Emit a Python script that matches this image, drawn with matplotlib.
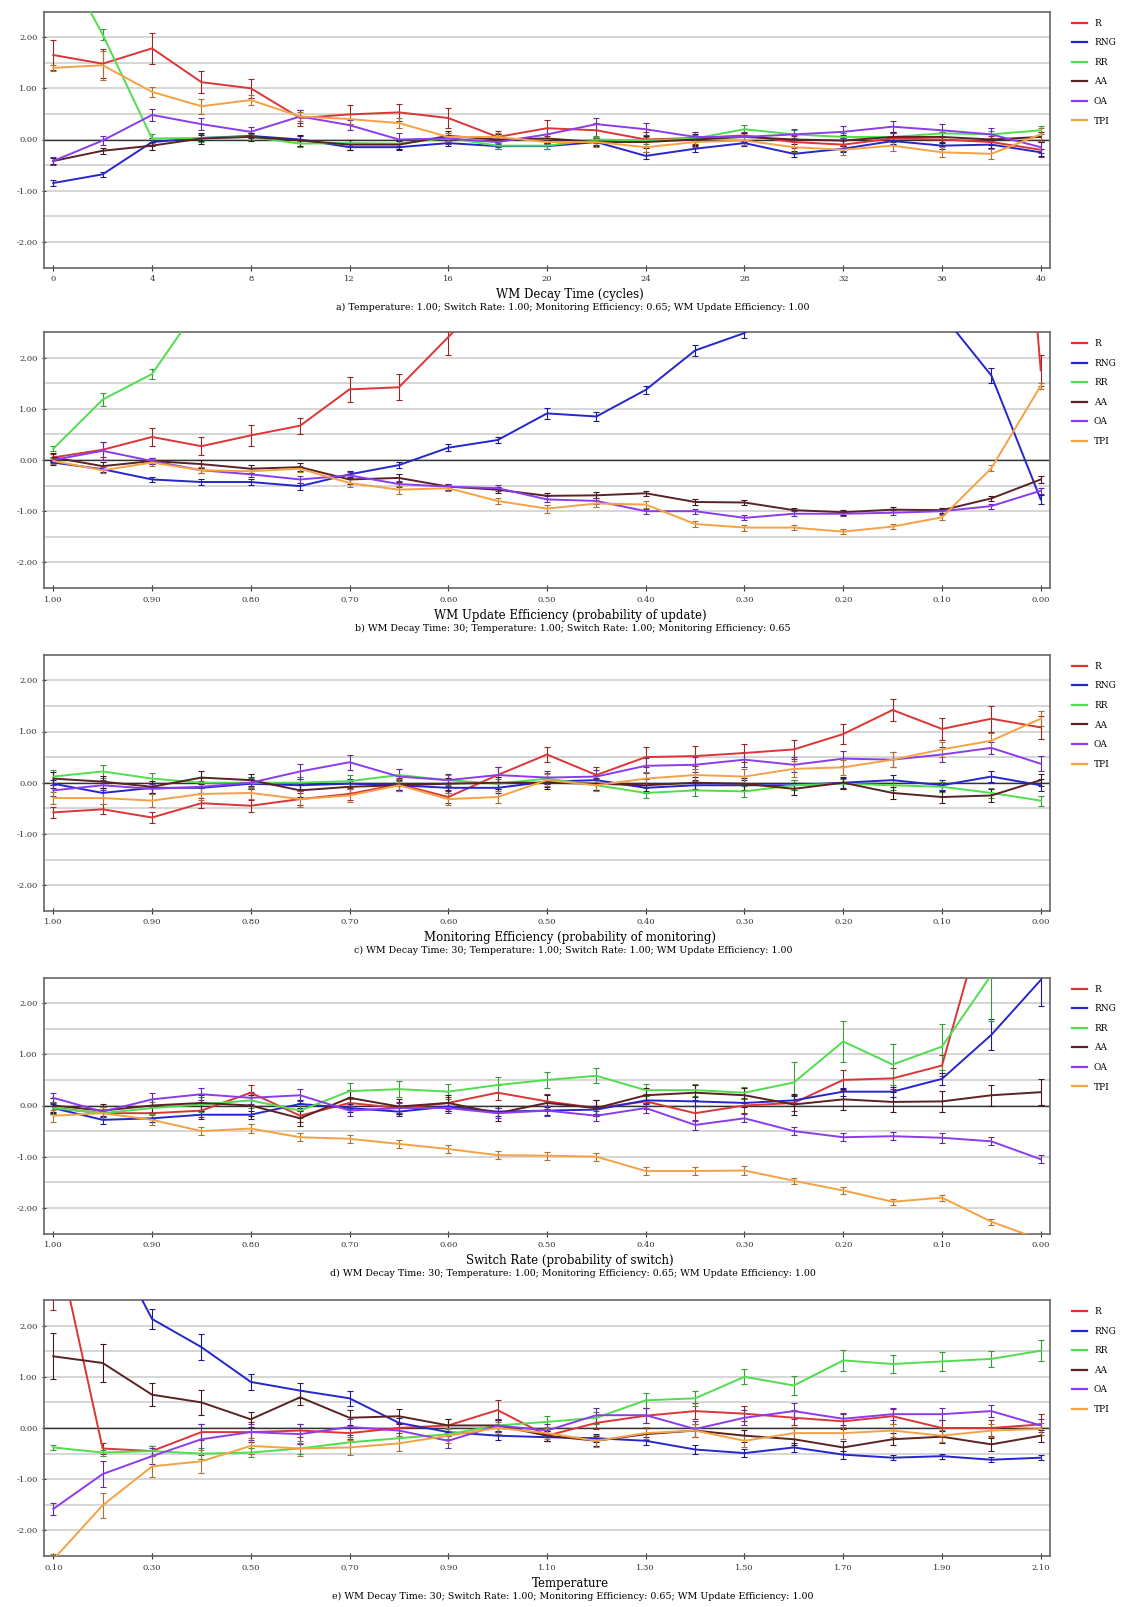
import numpy as np
import matplotlib
matplotlib.use("Agg")
import matplotlib.pyplot as plt
import matplotlib.colors as mcolors
from matplotlib.lines import Line2D
from matplotlib.ticker import MultipleLocator, FormatStrFormatter, FixedLocator

plt.rcParams['font.family'] = ['DejaVu Serif']

names = ['R', 'RNG', 'RR', 'AA', 'OA', 'TPI']
colors = ['#dc3535', '#2626cc', '#4ede4e', '#5a2222', '#8c3cee', '#f5a245']

# a) WM decay time
decay_x = [0, 2, 4, 6, 8, 10, 12, 14, 16, 18, 20, 22, 24, 26, 28, 30, 32, 34, 36, 38, 40]
decay_R = [1.65, 1.48, 1.78, 1.12, 1.0, 0.42, 0.49, 0.53, 0.42, 0.05, 0.22, 0.18, 0.0, 0.03, 0.08, -0.05, -0.1, 0.02, 0.0, -0.05, -0.2]
decay_RNG = [-0.85, -0.68, -0.05, 0.03, 0.07, 0.0, -0.15, -0.15, -0.07, -0.13, -0.13, -0.05, -0.32, -0.18, -0.07, -0.28, -0.18, -0.03, -0.12, -0.1, -0.25]
decay_RR = [3.85, 2.05, 0.02, 0.03, 0.05, -0.08, -0.07, -0.08, 0.03, -0.12, -0.12, 0.0, -0.02, 0.02, 0.2, 0.1, 0.05, 0.05, 0.12, 0.1, 0.18]
decay_AA = [-0.42, -0.22, -0.12, 0.02, 0.05, -0.02, -0.1, -0.1, 0.07, 0.0, 0.02, -0.05, -0.05, 0.0, 0.05, 0.0, -0.02, 0.05, 0.05, 0.0, 0.05]
decay_OA = [-0.42, -0.02, 0.48, 0.3, 0.15, 0.45, 0.28, 0.0, 0.02, -0.05, 0.1, 0.3, 0.2, 0.05, 0.05, 0.1, 0.15, 0.25, 0.18, 0.1, -0.15]
decay_TPI = [1.4, 1.45, 0.93, 0.65, 0.77, 0.45, 0.4, 0.32, 0.05, 0.05, -0.05, -0.05, -0.15, -0.05, -0.02, -0.15, -0.2, -0.12, -0.25, -0.28, 0.1]
decay_R_err = [0.3, 0.28, 0.3, 0.22, 0.18, 0.15, 0.18, 0.16, 0.2, 0.12, 0.16, 0.15, 0.15, 0.12, 0.12, 0.12, 0.13, 0.12, 0.12, 0.12, 0.15]
decay_RNG_err = [0.05, 0.05, 0.08, 0.06, 0.05, 0.06, 0.06, 0.06, 0.05, 0.05, 0.05, 0.06, 0.07, 0.06, 0.05, 0.06, 0.06, 0.06, 0.06, 0.06, 0.07]
decay_RR_err = [0.1, 0.1, 0.08, 0.08, 0.06, 0.06, 0.06, 0.06, 0.06, 0.06, 0.06, 0.06, 0.07, 0.06, 0.08, 0.08, 0.07, 0.07, 0.07, 0.07, 0.08]
decay_AA_err = [0.06, 0.06, 0.08, 0.1, 0.07, 0.1, 0.1, 0.08, 0.1, 0.1, 0.08, 0.08, 0.12, 0.1, 0.08, 0.08, 0.1, 0.1, 0.1, 0.1, 0.1]
decay_OA_err = [0.08, 0.08, 0.12, 0.12, 0.1, 0.12, 0.1, 0.12, 0.1, 0.1, 0.12, 0.12, 0.12, 0.1, 0.1, 0.1, 0.12, 0.12, 0.12, 0.12, 0.12]
decay_TPI_err = [0.06, 0.28, 0.1, 0.15, 0.1, 0.08, 0.1, 0.1, 0.08, 0.08, 0.08, 0.1, 0.1, 0.1, 0.08, 0.1, 0.1, 0.1, 0.1, 0.1, 0.12]

# b) WM update efficiency
update_x = [1.0, 0.95, 0.9, 0.85, 0.8, 0.75, 0.7, 0.65, 0.6, 0.55, 0.5, 0.45, 0.4, 0.35, 0.3, 0.25, 0.2, 0.15, 0.1, 0.05, 0.0]
update_R = [0.05, 0.2, 0.45, 0.27, 0.48, 0.67, 1.38, 1.42, 2.4, 3.4, 4.3, 5.2, 6.0, 6.8, 7.5, 8.2, 9.0, 9.8, 10.6, 13.5, 1.75]
update_RNG = [-0.05, -0.18, -0.38, -0.43, -0.43, -0.51, -0.28, -0.1, 0.24, 0.39, 0.91, 0.85, 1.37, 2.14, 2.48, 3.3, 3.8, 3.5, 2.85, 1.65, -0.77]
update_RR = [0.22, 1.18, 1.68, 3.07, 4.0, 4.8, 5.5, 6.0, 6.5, 7.0, 7.5, 8.0, 8.5, 9.0, 9.5, 10.0, 10.5, 11.0, 11.5, 12.0, 12.5]
update_AA = [0.05, -0.12, -0.02, -0.08, -0.17, -0.14, -0.38, -0.35, -0.52, -0.58, -0.7, -0.69, -0.65, -0.82, -0.83, -0.98, -1.02, -0.97, -0.98, -0.75, -0.38]
update_OA = [0.0, 0.18, -0.02, -0.2, -0.28, -0.38, -0.3, -0.47, -0.52, -0.55, -0.77, -0.8, -1.0, -1.0, -1.13, -1.05, -1.05, -1.03, -1.0, -0.9, -0.6]
update_TPI = [-0.02, -0.2, -0.05, -0.2, -0.22, -0.17, -0.45, -0.58, -0.55, -0.8, -0.95, -0.85, -0.87, -1.25, -1.32, -1.32, -1.4, -1.3, -1.12, -0.16, 1.45]
update_R_err = [0.06, 0.15, 0.18, 0.18, 0.2, 0.16, 0.25, 0.25, 0.35, 0.4, 0.4, 0.4, 0.4, 0.4, 0.4, 0.4, 0.4, 0.4, 0.4, 0.4, 0.3]
update_RNG_err = [0.04, 0.05, 0.05, 0.06, 0.06, 0.07, 0.06, 0.06, 0.07, 0.06, 0.1, 0.08, 0.08, 0.1, 0.1, 0.2, 0.2, 0.2, 0.2, 0.15, 0.08]
update_RR_err = [0.05, 0.12, 0.1, 0.15, 0.2, 0.2, 0.2, 0.2, 0.2, 0.2, 0.2, 0.2, 0.2, 0.2, 0.2, 0.2, 0.2, 0.2, 0.2, 0.2, 0.2]
update_AA_err = [0.08, 0.08, 0.06, 0.08, 0.08, 0.08, 0.08, 0.08, 0.06, 0.06, 0.06, 0.06, 0.05, 0.05, 0.05, 0.05, 0.05, 0.05, 0.05, 0.05, 0.06]
update_OA_err = [0.06, 0.18, 0.06, 0.06, 0.06, 0.06, 0.06, 0.06, 0.06, 0.06, 0.06, 0.06, 0.05, 0.05, 0.05, 0.05, 0.05, 0.05, 0.05, 0.05, 0.06]
update_TPI_err = [0.06, 0.06, 0.06, 0.06, 0.06, 0.06, 0.08, 0.08, 0.06, 0.06, 0.08, 0.06, 0.06, 0.06, 0.06, 0.05, 0.05, 0.05, 0.05, 0.06, 0.06]

# c) monitoring efficiency
monitor_x = update_x
monitor_R = [-0.58, -0.52, -0.68, -0.4, -0.45, -0.32, -0.22, -0.03, -0.28, 0.15, 0.55, 0.15, 0.5, 0.52, 0.58, 0.65, 0.95, 1.42, 1.05, 1.25, 1.08]
monitor_RNG = [-0.02, -0.2, -0.1, -0.1, -0.02, -0.05, -0.02, -0.05, -0.1, -0.1, 0.02, 0.05, -0.1, -0.05, -0.05, -0.05, 0.0, 0.05, -0.05, 0.12, -0.05]
monitor_RR = [0.12, 0.22, 0.08, 0.0, 0.0, 0.0, 0.03, 0.15, 0.05, -0.02, 0.08, -0.05, -0.2, -0.15, -0.17, -0.05, -0.02, -0.05, -0.08, -0.2, -0.35]
monitor_AA = [0.08, 0.02, -0.08, 0.1, 0.05, -0.15, -0.08, -0.05, -0.02, 0.0, 0.0, -0.02, -0.05, 0.0, -0.02, -0.12, 0.0, -0.2, -0.28, -0.25, 0.05]
monitor_OA = [-0.15, -0.05, -0.12, -0.08, 0.0, 0.22, 0.4, 0.12, 0.05, 0.15, 0.1, 0.12, 0.33, 0.35, 0.45, 0.35, 0.47, 0.45, 0.55, 0.68, 0.37]
monitor_TPI = [-0.3, -0.3, -0.35, -0.22, -0.2, -0.32, -0.25, -0.05, -0.32, -0.28, 0.05, -0.05, 0.08, 0.15, 0.12, 0.27, 0.3, 0.45, 0.65, 0.82, 1.25]
monitor_R_err = [0.1, 0.1, 0.1, 0.1, 0.12, 0.12, 0.12, 0.12, 0.12, 0.15, 0.15, 0.15, 0.2, 0.2, 0.18, 0.18, 0.2, 0.22, 0.22, 0.25, 0.22]
monitor_RNG_err = [0.08, 0.1, 0.1, 0.1, 0.1, 0.12, 0.1, 0.1, 0.1, 0.1, 0.1, 0.1, 0.1, 0.1, 0.1, 0.1, 0.1, 0.1, 0.1, 0.1, 0.12]
monitor_RR_err = [0.12, 0.12, 0.1, 0.1, 0.1, 0.12, 0.12, 0.12, 0.1, 0.1, 0.1, 0.1, 0.1, 0.1, 0.1, 0.1, 0.1, 0.1, 0.1, 0.1, 0.1]
monitor_AA_err = [0.12, 0.12, 0.12, 0.12, 0.12, 0.12, 0.12, 0.12, 0.12, 0.12, 0.12, 0.12, 0.12, 0.12, 0.12, 0.12, 0.12, 0.12, 0.12, 0.12, 0.12]
monitor_OA_err = [0.1, 0.1, 0.1, 0.12, 0.12, 0.15, 0.15, 0.15, 0.12, 0.15, 0.12, 0.12, 0.15, 0.15, 0.15, 0.15, 0.15, 0.15, 0.15, 0.12, 0.15]
monitor_TPI_err = [0.12, 0.12, 0.12, 0.12, 0.12, 0.15, 0.12, 0.12, 0.12, 0.12, 0.12, 0.12, 0.12, 0.12, 0.15, 0.15, 0.15, 0.15, 0.15, 0.15, 0.15]

# d) switch rate
switch_x = update_x
switch_R = [-0.05, -0.15, -0.15, -0.1, 0.25, -0.2, 0.05, -0.05, 0.05, 0.25, 0.08, -0.05, 0.08, -0.15, 0.0, 0.05, 0.5, 0.53, 0.78, 4.2, 6.0]
switch_RNG = [-0.05, -0.28, -0.25, -0.18, -0.18, 0.03, -0.05, -0.12, -0.02, -0.12, -0.1, -0.08, 0.1, 0.08, 0.05, 0.1, 0.27, 0.27, 0.52, 1.38, 2.45]
switch_RR = [-0.05, -0.15, -0.05, 0.02, 0.1, -0.1, 0.28, 0.32, 0.27, 0.4, 0.5, 0.58, 0.3, 0.3, 0.25, 0.45, 1.25, 0.8, 1.15, 2.55, 4.0]
switch_AA = [0.0, -0.1, 0.0, 0.05, 0.0, -0.25, 0.15, -0.02, 0.05, -0.15, 0.05, -0.05, 0.2, 0.25, 0.2, 0.02, 0.12, 0.07, 0.08, 0.2, 0.26]
switch_OA = [0.15, -0.12, 0.12, 0.22, 0.15, 0.2, -0.1, -0.05, -0.05, -0.15, -0.1, -0.2, -0.05, -0.38, -0.25, -0.5, -0.62, -0.6, -0.63, -0.7, -1.05]
switch_TPI = [-0.2, -0.15, -0.28, -0.5, -0.45, -0.62, -0.65, -0.75, -0.85, -0.97, -0.98, -1.0, -1.28, -1.28, -1.27, -1.47, -1.66, -1.88, -1.8, -2.27, -2.62]
switch_R_err = [0.12, 0.12, 0.12, 0.12, 0.15, 0.12, 0.12, 0.12, 0.12, 0.15, 0.15, 0.15, 0.15, 0.15, 0.15, 0.15, 0.2, 0.2, 0.2, 0.4, 0.5]
switch_RNG_err = [0.08, 0.08, 0.08, 0.08, 0.08, 0.08, 0.08, 0.08, 0.08, 0.08, 0.08, 0.08, 0.08, 0.08, 0.08, 0.08, 0.08, 0.1, 0.12, 0.3, 0.5]
switch_RR_err = [0.12, 0.12, 0.12, 0.15, 0.15, 0.15, 0.15, 0.15, 0.15, 0.15, 0.15, 0.15, 0.12, 0.12, 0.12, 0.4, 0.4, 0.4, 0.45, 0.9, 0.9]
switch_AA_err = [0.15, 0.12, 0.12, 0.15, 0.2, 0.15, 0.15, 0.15, 0.15, 0.15, 0.15, 0.15, 0.15, 0.15, 0.15, 0.2, 0.2, 0.2, 0.2, 0.2, 0.25]
switch_OA_err = [0.1, 0.1, 0.12, 0.12, 0.12, 0.12, 0.1, 0.1, 0.1, 0.1, 0.1, 0.1, 0.1, 0.1, 0.08, 0.08, 0.08, 0.08, 0.1, 0.08, 0.08]
switch_TPI_err = [0.12, 0.12, 0.1, 0.08, 0.08, 0.08, 0.08, 0.08, 0.08, 0.08, 0.08, 0.08, 0.08, 0.08, 0.08, 0.06, 0.06, 0.06, 0.06, 0.06, 0.06]

# e) temperature
temp_x = [0.1, 0.2, 0.3, 0.4, 0.5, 0.6, 0.7, 0.8, 0.9, 1.0, 1.1, 1.2, 1.3, 1.4, 1.5, 1.6, 1.7, 1.8, 1.9, 2.0, 2.1]
temp_R = [4.0, -0.4, -0.45, -0.08, -0.08, -0.05, -0.1, 0.0, 0.05, 0.35, -0.15, 0.1, 0.24, 0.33, 0.28, 0.2, 0.13, 0.23, 0.0, 0.0, 0.07]
temp_RNG = [5.0, 3.98, 2.13, 1.58, 0.9, 0.73, 0.58, 0.1, -0.08, -0.15, -0.18, -0.2, -0.25, -0.42, -0.49, -0.38, -0.52, -0.58, -0.55, -0.62, -0.58]
temp_RR = [-0.38, -0.48, -0.45, -0.5, -0.48, -0.4, -0.28, -0.2, -0.12, 0.05, 0.12, 0.2, 0.54, 0.58, 1.0, 0.83, 1.32, 1.25, 1.3, 1.35, 1.51]
temp_AA = [1.4, 1.27, 0.65, 0.5, 0.17, 0.6, 0.2, 0.23, 0.05, 0.05, -0.15, -0.25, -0.12, -0.05, -0.15, -0.22, -0.38, -0.22, -0.17, -0.32, -0.15]
temp_OA = [-1.58, -0.9, -0.55, -0.22, -0.08, -0.12, 0.02, -0.05, -0.25, 0.05, -0.05, 0.25, 0.25, -0.02, 0.2, 0.33, 0.18, 0.27, 0.27, 0.33, 0.05]
temp_TPI = [-2.57, -1.51, -0.75, -0.65, -0.35, -0.4, -0.38, -0.3, -0.15, 0.0, -0.1, -0.25, -0.1, -0.05, -0.25, -0.1, -0.1, -0.05, -0.15, -0.05, -0.02]
temp_R_err = [1.7, 0.1, 0.1, 0.15, 0.2, 0.12, 0.12, 0.1, 0.12, 0.2, 0.1, 0.12, 0.15, 0.15, 0.15, 0.15, 0.15, 0.15, 0.15, 0.15, 0.2]
temp_RNG_err = [0.3, 0.3, 0.2, 0.25, 0.15, 0.15, 0.15, 0.1, 0.08, 0.08, 0.08, 0.08, 0.08, 0.08, 0.08, 0.08, 0.08, 0.05, 0.05, 0.05, 0.05]
temp_RR_err = [0.05, 0.06, 0.1, 0.1, 0.08, 0.1, 0.1, 0.1, 0.1, 0.1, 0.12, 0.12, 0.15, 0.15, 0.15, 0.18, 0.2, 0.18, 0.18, 0.15, 0.2]
temp_AA_err = [0.45, 0.38, 0.22, 0.25, 0.15, 0.15, 0.15, 0.15, 0.12, 0.1, 0.1, 0.1, 0.12, 0.12, 0.12, 0.12, 0.12, 0.12, 0.12, 0.12, 0.12]
temp_OA_err = [0.12, 0.25, 0.15, 0.3, 0.15, 0.2, 0.15, 0.15, 0.15, 0.12, 0.12, 0.15, 0.15, 0.15, 0.15, 0.15, 0.12, 0.12, 0.12, 0.12, 0.12]
temp_TPI_err = [0.1, 0.25, 0.2, 0.22, 0.15, 0.15, 0.15, 0.15, 0.15, 0.12, 0.12, 0.12, 0.12, 0.12, 0.12, 0.12, 0.12, 0.12, 0.12, 0.12, 0.12]

panels = [
    (decay_x, [decay_R, decay_RNG, decay_RR, decay_AA, decay_OA, decay_TPI],
     [decay_R_err, decay_RNG_err, decay_RR_err, decay_AA_err, decay_OA_err, decay_TPI_err],
     [0, 4, 8, 12, 16, 20, 24, 28, 32, 36, 40], '%d', False,
     'WM Decay Time (cycles)',
     'a) Temperature: 1.00; Switch Rate: 1.00; Monitoring Efficiency: 0.65; WM Update Efficiency: 1.00'),
    (update_x, [update_R, update_RNG, update_RR, update_AA, update_OA, update_TPI],
     [update_R_err, update_RNG_err, update_RR_err, update_AA_err, update_OA_err, update_TPI_err],
     [1.0, 0.9, 0.8, 0.7, 0.6, 0.5, 0.4, 0.3, 0.2, 0.1, 0.0], '%.2f', True,
     'WM Update Efficiency (probability of update)',
     'b) WM Decay Time: 30; Temperature: 1.00; Switch Rate: 1.00; Monitoring Efficiency: 0.65'),
    (monitor_x, [monitor_R, monitor_RNG, monitor_RR, monitor_AA, monitor_OA, monitor_TPI],
     [monitor_R_err, monitor_RNG_err, monitor_RR_err, monitor_AA_err, monitor_OA_err, monitor_TPI_err],
     [1.0, 0.9, 0.8, 0.7, 0.6, 0.5, 0.4, 0.3, 0.2, 0.1, 0.0], '%.2f', True,
     'Monitoring Efficiency (probability of monitoring)',
     'c) WM Decay Time: 30; Temperature: 1.00; Switch Rate: 1.00; WM Update Efficiency: 1.00'),
    (switch_x, [switch_R, switch_RNG, switch_RR, switch_AA, switch_OA, switch_TPI],
     [switch_R_err, switch_RNG_err, switch_RR_err, switch_AA_err, switch_OA_err, switch_TPI_err],
     [1.0, 0.9, 0.8, 0.7, 0.6, 0.5, 0.4, 0.3, 0.2, 0.1, 0.0], '%.2f', True,
     'Switch Rate (probability of switch)',
     'd) WM Decay Time: 30; Temperature: 1.00; Monitoring Efficiency: 0.65; WM Update Efficiency: 1.00'),
    (temp_x, [temp_R, temp_RNG, temp_RR, temp_AA, temp_OA, temp_TPI],
     [temp_R_err, temp_RNG_err, temp_RR_err, temp_AA_err, temp_OA_err, temp_TPI_err],
     [0.1, 0.3, 0.5, 0.7, 0.9, 1.1, 1.3, 1.5, 1.7, 1.9, 2.1], '%.2f', False,
     'Temperature',
     'e) WM Decay Time: 30; Switch Rate: 1.00; Monitoring Efficiency: 0.65; WM Update Efficiency: 1.00'),
]

W, H = 1126, 1607
fig = plt.figure(figsize=(W / 100, H / 100), dpi=100)

tops = [11.5, 332, 654.7, 977.5, 1300]
ax_h = 256
ax_left, ax_right = 44, 1050


def darker(c, f=0.7):
    r, g, b = mcolors.to_rgb(c)
    return (r * f, g * f, b * f)


for (xs, ys, errs, xt, fmt, rev, xlabel, sub), top in zip(panels, tops):
    bottom = top + ax_h
    ax = fig.add_axes([ax_left / W, 1 - bottom / H, (ax_right - ax_left) / W, ax_h / H])

    for yv, ev, c in zip(ys, errs, colors):
        ax.errorbar(xs, yv, yerr=ev, color=c, lw=1.4, ecolor=darker(c), elinewidth=0.8,
                    capsize=2, capthick=0.8, zorder=3)

    ax.axhline(0, color='#333333', lw=1.0, zorder=2)
    ax.set_ylim(-2.5, 2.5)
    span = max(xs) - min(xs)
    m = span * 0.0094
    if rev:
        ax.set_xlim(max(xs) + m, min(xs) - m)
    else:
        ax.set_xlim(min(xs) - m, max(xs) + m)

    ax.yaxis.set_major_locator(FixedLocator([-2, -1, 0, 1, 2]))
    ax.yaxis.set_minor_locator(FixedLocator([-1.5, -0.5, 0.5, 1.5]))
    ax.yaxis.set_major_formatter(FormatStrFormatter('%.2f'))
    ax.grid(True, axis='y', which='both', color='#d0d0d0', lw=1.2, zorder=1)
    ax.set_axisbelow(True)

    ax.set_xticks(xt)
    ax.xaxis.set_major_formatter(FormatStrFormatter(fmt))
    ax.tick_params(axis='x', direction='inout', length=5, width=0.8, colors='#333333',
                   labelsize=6, pad=3)
    ax.tick_params(axis='y', which='major', direction='inout', length=3, width=0.8,
                   colors='#333333', labelsize=6, pad=3)
    ax.tick_params(axis='y', which='minor', length=0)
    for s in ax.spines.values():
        s.set_color('#666666')
        s.set_linewidth(1.2)

    handles = [Line2D([0], [0], color=c, lw=1.6) for c in colors]
    ax.legend(handles, names, loc='upper left', bbox_to_anchor=(1.015, 1.0),
              frameon=False, fontsize=6.5, handlelength=1.6, labelspacing=1.17,
              handletextpad=0.8, borderaxespad=0.4)

    fig.text(570 / W, 1 - (bottom + 27) / H, xlabel, ha='center', va='center', fontsize=8.5)
    fig.text(573 / W, 1 - (bottom + 40) / H, sub, ha='center', va='center', fontsize=6.8)

fig.savefig('out.png', dpi=100)
